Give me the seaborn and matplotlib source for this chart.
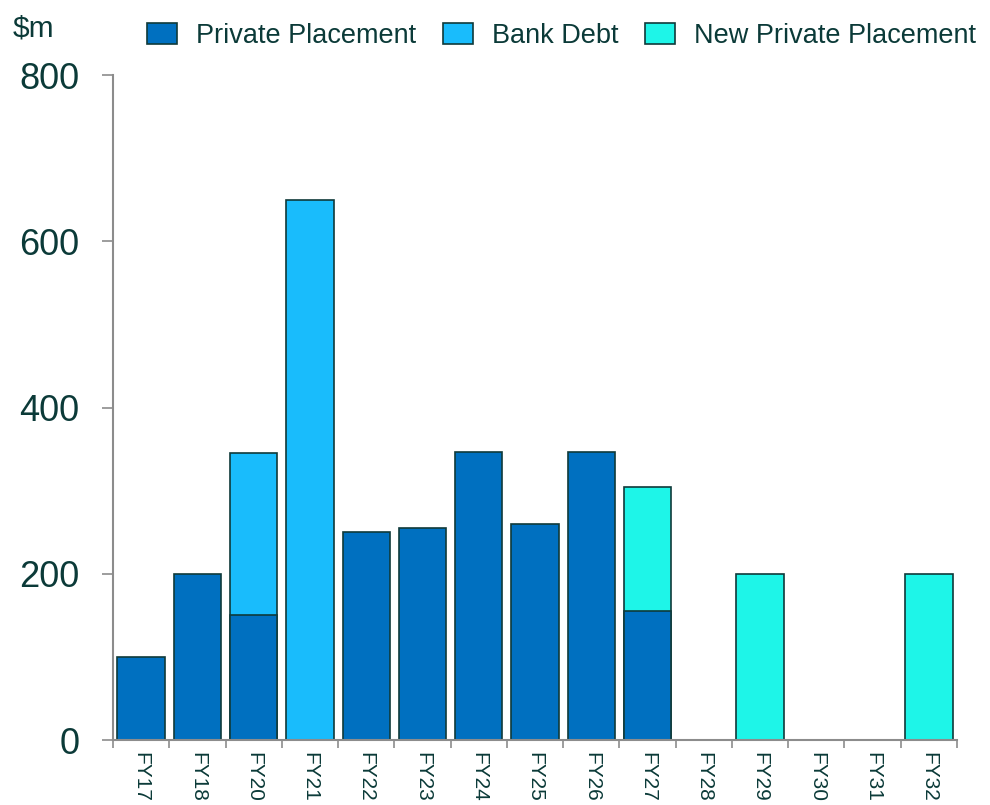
import numpy as np
import pandas as pd
import matplotlib
matplotlib.use("Agg")
import matplotlib.pyplot as plt
from matplotlib.patches import Patch
import seaborn as sns

categories = ["FY17", "FY18", "FY20", "FY21", "FY22", "FY23", "FY24", "FY25",
              "FY26", "FY27", "FY28", "FY29", "FY30", "FY31", "FY32"]
private_placement = [100, 200, 150, 0, 250, 255, 347, 260, 346, 155, 0, 0, 0, 0, 0]
bank_debt = [0, 0, 195, 650, 0, 0, 0, 0, 0, 0, 0, 0, 0, 0, 0]
new_private_placement = [0, 0, 0, 0, 0, 0, 0, 0, 0, 150, 0, 200, 0, 0, 200]
y_ticks = [0, 200, 400, 600, 800]

C_PP = "#0070C0"
C_BD = "#19BCFC"
C_NEW = "#1EF5E8"
EDGE = "#0F3A3A"
TEXT = "#0B3A38"
AXIS = "#8C8C8C"

sns.set_theme(style="white")
plt.rcParams["font.family"] = ["Liberation Sans", "DejaVu Sans"]

pp = np.array(private_placement, dtype=float)
bd = np.array(bank_debt, dtype=float)
nw = np.array(new_private_placement, dtype=float)

layer_new = np.where(nw > 0, pp + bd + nw, np.nan)
layer_bd = np.where(bd > 0, pp + bd, np.nan)
layer_pp = np.where(pp > 0, pp, np.nan)

df = pd.DataFrame({"cat": categories, "new": layer_new, "bd": layer_bd, "pp": layer_pp})

fig = plt.figure(figsize=(9.9, 8.05), dpi=100)
ax = fig.add_axes([0.1141, 0.0807, 0.8526, 0.8261])

for col, colr in [("new", C_NEW), ("bd", C_BD), ("pp", C_PP)]:
    sub = df.dropna(subset=[col])
    sns.barplot(data=sub, x="cat", y=col, order=categories, color=colr,
                saturation=1, width=0.84, edgecolor=EDGE, linewidth=1.2,
                errorbar=None, ax=ax, zorder=2)

ax.set_xlim(-0.5, len(categories) - 0.5)
ax.set_ylim(0, 800)
ax.set_yticks(y_ticks)
ax.set_xlabel("")
ax.set_ylabel("")

for s in ["top", "right"]:
    ax.spines[s].set_visible(False)
for s in ["left", "bottom"]:
    ax.spines[s].set_color(AXIS)
    ax.spines[s].set_linewidth(1.5)

ax.tick_params(axis="y", which="major", left=True, length=8, width=1.2,
               color=AXIS, labelsize=26, labelcolor=TEXT, pad=16)
ax.set_xticks(range(len(categories)))
ax.set_xticklabels(categories)
ax.set_xticks(np.arange(-0.5, len(categories)), minor=True)
ax.tick_params(axis="x", which="major", bottom=True, length=0, labelsize=15,
               labelcolor=TEXT, pad=8.5)
ax.tick_params(axis="x", which="minor", bottom=True, length=6, width=1.2,
               color=AXIS)
for lbl in ax.get_xticklabels():
    lbl.set_rotation(-90)
    lbl.set_rotation_mode("anchor")
    lbl.set_ha("left")
    lbl.set_va("center")

fig.text(0.013, 0.965, "$m", fontsize=21.5, color=TEXT, ha="left", va="center")

handles = [Patch(facecolor=C_PP, edgecolor=EDGE, linewidth=1.2),
           Patch(facecolor=C_BD, edgecolor=EDGE, linewidth=1.2),
           Patch(facecolor=C_NEW, edgecolor=EDGE, linewidth=1.2)]
fig.legend(handles, ["Private Placement", "Bank Debt", "New Private Placement"],
           loc="center", bbox_to_anchor=(0.567, 0.955), ncol=3, frameon=False,
           fontsize=19.5, labelcolor=TEXT, handlelength=1.1, handleheight=0.82,
           handletextpad=0.7, columnspacing=1.0, borderpad=0, borderaxespad=0)

fig.savefig("out.png", dpi=100)
